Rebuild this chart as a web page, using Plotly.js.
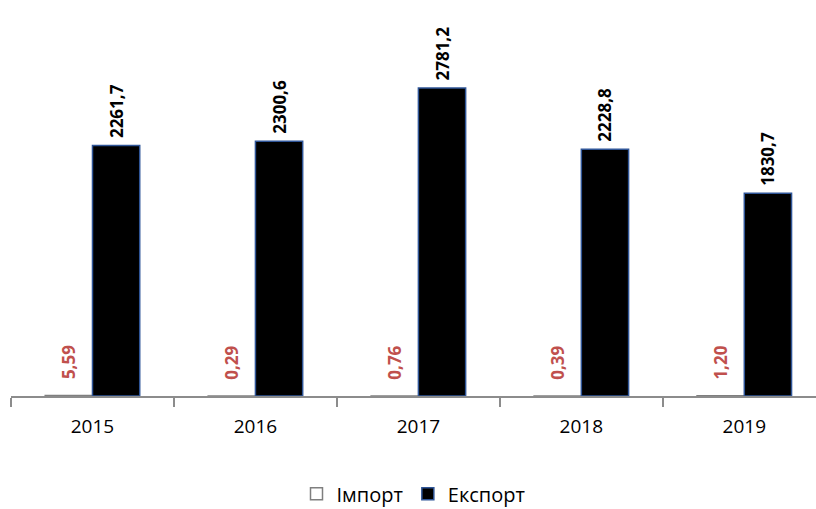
<!DOCTYPE html>
<html>
<head>
<meta charset="utf-8">
<script src="https://cdn.plot.ly/plotly-3.0.1.min.js"></script>
<style>
  html, body { margin: 0; padding: 0; background: #fff; }
  #chart { width: 816px; height: 509px; }
</style>
</head>
<body>
<div id="chart"></div>
<script>
const years = ['2015', '2016', '2017', '2018', '2019'];
const importValues = [5.59, 0.29, 0.76, 0.39, 1.20];
const importLabels = ['5,59', '0,29', '0,76', '0,39', '1,20'];
const exportValues = [2261.7, 2300.6, 2781.2, 2228.8, 1830.7];
const exportLabels = ['2261,7', '2300,6', '2781,2', '2228,8', '1830,7'];

const font = 'Open Sans, Liberation Sans, sans-serif';
const pad = '\u00a0';

const importTrace = {
    x: years,
    y: importValues,
    type: 'bar',
    name: 'Імпорт',
    text: importLabels.map(t => pad + pad + pad + t),
    textposition: 'outside',
    textangle: -90,
    constraintext: 'none',
    cliponaxis: false,
    textfont: { family: font, size: 17, color: '#c0504d', weight: 'bold' },
    marker: { color: '#ffffff', line: { color: '#7f7f7f', width: 1.5 } }
};

const exportTrace = {
    x: years,
    y: exportValues,
    type: 'bar',
    name: 'Експорт',
    text: exportLabels.map(t => pad + t),
    textposition: 'outside',
    textangle: -90,
    constraintext: 'none',
    cliponaxis: false,
    textfont: { family: font, size: 17, color: '#000000', weight: 'bold' },
    marker: { color: '#000000', line: { color: '#2f5597', width: 1.5 } }
};

const layout = {
    width: 816,
    height: 509,
    margin: { l: 11, r: 0, t: 10, b: 113 },
    paper_bgcolor: '#ffffff',
    plot_bgcolor: '#ffffff',
    font: { family: font, size: 18, color: '#000000' },
    barmode: 'group',
    bargap: 0.42,
    bargroupgap: 0,
    showlegend: true,
    legend: {
        orientation: 'h',
        x: 0.5,
        xanchor: 'center',
        yref: 'container',
        y: 0.03,
        yanchor: 'middle',
        font: { family: font, size: 20, color: '#000000' },
        itemwidth: 30,
        traceorder: 'normal'
    },
    xaxis: {
        type: 'category',
        range: [-0.5, 4.44],
        showline: true,
        linecolor: '#8c8c8c',
        linewidth: 1.5,
        ticks: 'outside',
        tickson: 'boundaries',
        ticklen: 9,
        tickcolor: '#8c8c8c',
        tickwidth: 1.5,
        ticklabelstandoff: 13,
        tickfont: { family: font, size: 19, color: '#000000' },
        showgrid: false,
        zeroline: false
    },
    yaxis: {
        range: [0, 3485],
        visible: false,
        showgrid: false,
        zeroline: false
    }
};

Plotly.newPlot('chart', [importTrace, exportTrace], layout, { displayModeBar: false, staticPlot: true });
</script>
</body>
</html>
